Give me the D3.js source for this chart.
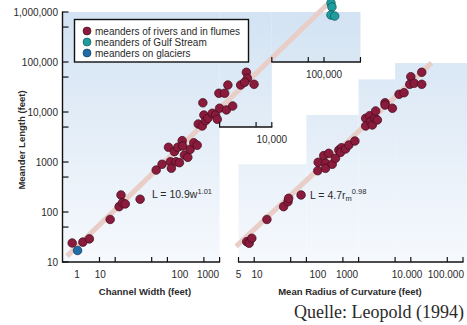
<!DOCTYPE html>
<html>
<head>
<meta charset="utf-8">
<script src="https://cdn.jsdelivr.net/npm/d3@7"></script>
<style>
  html, body { margin: 0; padding: 0; background: #fff; }
  svg { display: block; }
  text { font-family: "Liberation Sans", Arial, sans-serif; fill: #2a2a2a; }
</style>
</head>
<body>
<div id="chart"></div>
<script>
// meanders of rivers and in flumes: channel width (ft) vs meander length (ft)
const riverWidth = [1.5, 2.4, 3.2, 8, 12.9, 11.9, 13.8, 15.6, 30, 61, 79, 105, 114, 119, 136, 147, 158, 170,
  192, 197, 212, 246, 273, 320, 372, 390, 465, 500, 478, 540, 596, 724, 838, 903, 970, 1000, 1250, 1350,
  1440, 1780, 2530, 3260, 3410, 3020, 4570];
const riverLengthW = [24, 25, 29, 71, 219, 128, 153, 145, 180, 690, 900, 1970, 1010, 750, 1610, 1010, 1970, 970,
  2670, 2090, 1380, 1240, 1790, 2430, 2160, 5750, 5250, 8700, 15300, 6700, 7480, 9420, 8700, 7140, 23700, 11900, 23700, 11000,
  34700, 13200, 34700, 62200, 47200, 39300, 35800];

const gulfWidth = [136000, 142000, 136000, 160000];
const gulfLength = [1510000, 1260000, 870000, 830000];

const glacierWidth = [1.9];
const glacierLength = [17];

// same meanders: mean radius of curvature (ft) vs meander length (ft)
const riverRadius = [7.2, 8.0, 9.0, 17.5, 36.6, 44.4, 45.7, 79, 165, 168, 215, 232, 232, 268, 312, 361, 418, 471,
  451, 562, 650, 849, 1365, 1365, 1630, 1700, 1830, 2060, 2120, 2290, 3210, 3210, 4440, 5960, 7430, 10000,
  9560, 11600, 16200, 16200];
const riverLengthR = [25.5, 23.7, 29.8, 71, 128, 161, 188, 219, 670, 986, 1340, 942, 748, 1490, 900, 1190, 1740, 1930,
  1560, 1820, 2190, 2630, 7480, 5250, 8430, 6400, 5500, 7480, 10500, 6920, 15300, 13800, 11900, 22600, 24300, 50800,
  35800, 37500, 62200, 35800];

// fitted power laws printed on the chart
const widthFit = { a: 10.9, b: 1.01, from: 1.2, to: 115000 };
const radiusFit = { a: 4.7, b: 0.98, from: 4.5, to: 25000 };

// axis ticks
const lengthTicks = [10, 50, 100, 500, 1000, 5000, 1e4, 5e4, 1e5, 5e5, 1e6];
const lengthLabelValues = [10, 100, 1000, 1e4, 1e5, 1e6];
const lengthLabels = ["10", "100", "1000", "10,000", "100,000", "1,000,000"];

const widthTicksMain = [5, 10, 50, 100, 500, 1000];
const widthTicksMid = [1000, 5000, 1e4];
const widthTicksTop = [1e4, 5e4, 1e5, 5e5];
// labels sit slightly off their ticks in the original figure
const widthLabelsMain = ["1", "10", "100", "1000"];
const widthLabelAt = [1.85, 5.2, 174, 600];

const radiusTicks = [5, 10, 50, 100, 500, 1000, 5000, 1e4, 5e4, 1e5];
const radiusLabels = ["5", "10", "100", "1000", "10.000", "100.000"];
const radiusLabelAt = [5, 11.3, 166, 600, 8500, 47000];

// stepped background panels [x0, x1, yBottom, yTop]
const widthPanels = [[1, 1000, 10, 1e6], [1000, 1e4, 5000, 1e6], [1e4, 5e5, 1e5, 1e6]];
const radiusPanels = [[5, 100, 10, 900], [100, 1000, 10, 8700], [1000, 5000, 10, 45000], [5000, 1.2e5, 10, 95000]];

const legendItems = ["meanders of rivers and in flumes", "meanders of Gulf Stream", "meanders on glaciers"];
const colors = { river: "#8a1b3d", gulf: "#1f9d9c", glacier: "#1f6ca6" };
const strokes = { river: "#3f0a1a", gulf: "#0c5354", glacier: "#0b3358" };

const width = 467, height = 325;

const svg = d3.select("#chart").append("svg")
  .attr("width", width)
  .attr("height", height);

const y = d3.scaleLog().domain([10, 1e6]).range([262, 12]);
const xW = d3.scaleLog().domain([1, 1e5]).range([63, 324]);
const xR = d3.scaleLog().domain([5, 1e5]).range([238.5, 463]);

// gradient for panels
const grad = svg.append("defs").append("linearGradient")
  .attr("id", "panelGrad")
  .attr("gradientUnits", "userSpaceOnUse")
  .attr("x1", 0).attr("y1", 12).attr("x2", 0).attr("y2", 262);
grad.append("stop").attr("offset", "0%").attr("stop-color", "#d3e3f3");
grad.append("stop").attr("offset", "100%").attr("stop-color", "#f6f9fd");

function drawPanels(panels, x) {
  svg.append("g").selectAll("rect")
    .data(panels)
    .enter().append("rect")
    .attr("x", d => x(d[0]))
    .attr("width", d => x(d[1]) - x(d[0]))
    .attr("y", d => y(d[3]))
    .attr("height", d => y(d[2]) - y(d[3]))
    .attr("fill", "url(#panelGrad)");
}
drawPanels(widthPanels, xW);
drawPanels(radiusPanels, xR);

// fit lines
function drawFit(fit, x) {
  const pts = [fit.from, fit.to].map(v => [x(v), y(fit.a * Math.pow(v, fit.b))]);
  svg.append("path")
    .attr("d", d3.line()(pts))
    .attr("stroke", "#e9cdc7")
    .attr("stroke-width", 5)
    .attr("fill", "none");
}
drawFit(widthFit, xW);
drawFit(radiusFit, xR);

function drawPoints(xs, ys, x, kind) {
  svg.append("g").selectAll("circle")
    .data(xs.map((v, i) => [v, ys[i]]))
    .enter().append("circle")
    .attr("cx", d => x(d[0]))
    .attr("cy", d => y(d[1]))
    .attr("r", 4.3)
    .attr("fill", colors[kind])
    .attr("stroke", strokes[kind])
    .attr("stroke-width", 0.7);
}
drawPoints(riverWidth, riverLengthW, xW, "river");
drawPoints(gulfWidth, gulfLength, xW, "gulf");
drawPoints(glacierWidth, glacierLength, xW, "glacier");
drawPoints(riverRadius, riverLengthR, xR, "river");

// horizontal axis piece: line + upward ticks
function hAxis(x, from, to, level, ticks) {
  const g = svg.append("g");
  const yy = y(level);
  g.append("line")
    .attr("x1", x(from) - 0.5).attr("x2", x(to) + 0.5)
    .attr("y1", yy).attr("y2", yy)
    .attr("stroke", "#111").attr("stroke-width", 1.4);
  g.selectAll(".tk").data(ticks).enter().append("line")
    .attr("x1", d => x(d)).attr("x2", d => x(d))
    .attr("y1", yy).attr("y2", yy - 5)
    .attr("stroke", "#111").attr("stroke-width", 1.2);
  return g;
}
function hLabels(x, level, labels, at) {
  svg.append("g").selectAll("text")
    .data(labels)
    .enter().append("text")
    .attr("x", (d, i) => x(at[i]))
    .attr("y", y(level) + 16)
    .attr("text-anchor", "middle")
    .attr("font-size", 10)
    .text(d => d);
}

hAxis(xW, 1, 1000, 10, widthTicksMain);
hAxis(xW, 1000, 1e4, 5000, widthTicksMid);
hAxis(xW, 1e4, 5e5, 1e5, widthTicksTop);
hLabels(xW, 10, widthLabelsMain, widthLabelAt);
hLabels(xW, 5000, ["10,000"], [1e4]);
hLabels(xW, 1e5, ["100,000"], [1e5]);

hAxis(xR, 5, 1e5, 10, radiusTicks);
hLabels(xR, 10, radiusLabels, radiusLabelAt);

// y axis
const yAxisX = 62.5;
const yg = svg.append("g");
yg.append("line")
  .attr("x1", yAxisX).attr("x2", yAxisX)
  .attr("y1", y(1e6) - 0.5).attr("y2", y(10) + 0.7)
  .attr("stroke", "#111").attr("stroke-width", 1.4);
yg.selectAll(".tk").data(lengthTicks).enter().append("line")
  .attr("x1", yAxisX).attr("x2", yAxisX + 6)
  .attr("y1", d => y(d)).attr("y2", d => y(d))
  .attr("stroke", "#111").attr("stroke-width", 1.2);
yg.selectAll("text").data(lengthLabels).enter().append("text")
  .attr("x", 58)
  .attr("y", (d, i) => y(lengthLabelValues[i]) + 3.5)
  .attr("text-anchor", "end")
  .attr("font-size", 10)
  .text(d => d);

// axis titles
svg.append("text")
  .attr("transform", "translate(25,140) rotate(-90)")
  .attr("text-anchor", "middle")
  .attr("font-size", 9.5).attr("font-weight", "bold").attr("fill", "#333")
  .text("Meander Length (feet)");
svg.append("text")
  .attr("x", 145).attr("y", 295)
  .attr("text-anchor", "middle")
  .attr("font-size", 9.5).attr("font-weight", "bold").attr("fill", "#333")
  .text("Channel Width (feet)");
svg.append("text")
  .attr("x", 350).attr("y", 295)
  .attr("text-anchor", "middle")
  .attr("font-size", 9.5).attr("font-weight", "bold").attr("fill", "#333")
  .text("Mean Radius of Curvature (feet)");

// equations
const eq1 = svg.append("text").attr("x", 152).attr("y", 198).attr("font-size", 10.5).attr("fill", "#444");
eq1.append("tspan").text("L = 10.9w");
eq1.append("tspan").attr("dy", -4).attr("font-size", 7.5).text("1.01");

const eq2 = svg.append("text").attr("x", 310).attr("y", 199).attr("font-size", 10.5).attr("fill", "#444");
eq2.append("tspan").text("L = 4.7r");
eq2.append("tspan").attr("dy", 2).attr("font-size", 7.5).text("m");
eq2.append("tspan").attr("dy", -7).attr("font-size", 7.5).text("0.98");

// legend
const lg = svg.append("g");
lg.append("rect")
  .attr("x", 74.5).attr("y", 19.5).attr("width", 174).attr("height", 42.5)
  .attr("fill", "#fff").attr("stroke", "#111").attr("stroke-width", 1.4);
const legendKinds = ["river", "gulf", "glacier"];
lg.selectAll("circle").data(legendItems).enter().append("circle")
  .attr("cx", 87).attr("cy", (d, i) => 31 + i * 11)
  .attr("r", 4)
  .attr("fill", (d, i) => colors[legendKinds[i]])
  .attr("stroke", (d, i) => strokes[legendKinds[i]])
  .attr("stroke-width", 0.6);
lg.selectAll("text").data(legendItems).enter().append("text")
  .attr("x", 95).attr("y", (d, i) => 34.5 + i * 11)
  .attr("font-size", 10)
  .text(d => d);

// source
svg.append("text")
  .attr("x", 294).attr("y", 318)
  .attr("font-size", 18)
  .style("font-family", "'Liberation Serif', 'Times New Roman', serif")
  .attr("fill", "#111")
  .text("Quelle: Leopold (1994)");
</script>
</body>
</html>
